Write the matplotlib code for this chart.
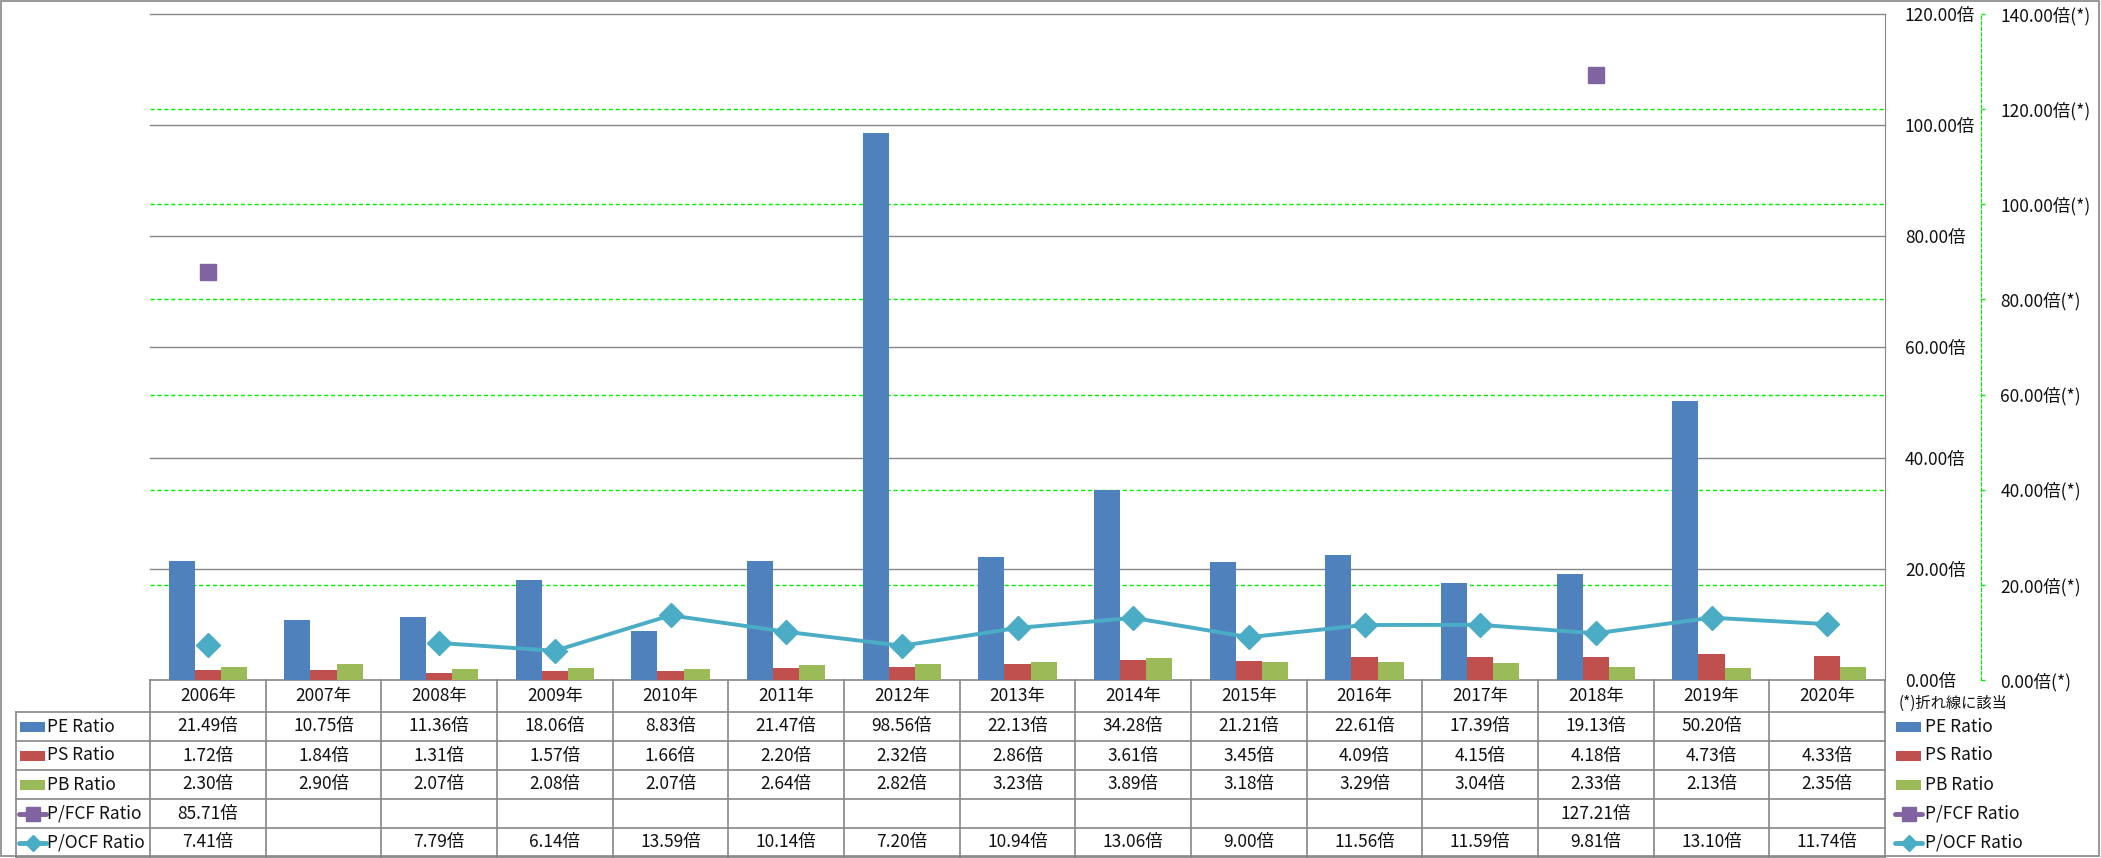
import matplotlib
matplotlib.use("Agg")
import matplotlib.pyplot as plt
import numpy as np
from matplotlib.patches import Rectangle
from matplotlib.lines import Line2D
from matplotlib.transforms import blended_transform_factory

plt.rcParams["font.family"] = ["Noto Sans CJK JP", "DejaVu Sans"]

# ---- data ----
years = ["2006年", "2007年", "2008年", "2009年", "2010年", "2011年", "2012年", "2013年",
         "2014年", "2015年", "2016年", "2017年", "2018年", "2019年", "2020年"]
pe_ratio = [21.49, 10.75, 11.36, 18.06, 8.83, 21.47, 98.56, 22.13, 34.28, 21.21,
            22.61, 17.39, 19.13, 50.20, np.nan]
ps_ratio = [1.72, 1.84, 1.31, 1.57, 1.66, 2.20, 2.32, 2.86, 3.61, 3.45,
            4.09, 4.15, 4.18, 4.73, 4.33]
pb_ratio = [2.30, 2.90, 2.07, 2.08, 2.07, 2.64, 2.82, 3.23, 3.89, 3.18,
            3.29, 3.04, 2.33, 2.13, 2.35]
pfcf_ratio = [85.71, np.nan, np.nan, np.nan, np.nan, np.nan, np.nan, np.nan,
              np.nan, np.nan, np.nan, np.nan, 127.21, np.nan, np.nan]
pocf_ratio = [7.41, np.nan, 7.79, 6.14, 13.59, 10.14, 7.20, 10.94, 13.06, 9.00,
              11.56, 11.59, 9.81, 13.10, 11.74]

series_names = ["PE Ratio", "PS Ratio", "PB Ratio", "P/FCF Ratio", "P/OCF Ratio"]
series_vals = [pe_ratio, ps_ratio, pb_ratio, pfcf_ratio, pocf_ratio]
colors = ["#4F81BD", "#C0504D", "#9BBB59", "#8064A2", "#4BACC6"]

left_ticks = [0, 20, 40, 60, 80, 100, 120]
right_ticks = [0, 20, 40, 60, 80, 100, 120, 140]
note_text = "(*)折れ線に該当"

# ---- layout (pixels) ----
W, H = 2101, 858
PL, PR, PT, PBOT = 150, 1885, 14, 680
SEC_X = 1981
TAB_L = 16
HDR_H, ROW_H = 32, 29
GRAY = "#868686"
GREEN = "#00EE00"
TXT = "#111111"
FS = 12.5

fig = plt.figure(figsize=(W / 100, H / 100), dpi=100)
rect = [PL / W, 1 - PBOT / H, (PR - PL) / W, (PBOT - PT) / H]
x = np.arange(len(years))

# overlay in pixel coords for table / legend / border
ov = fig.add_axes([0, 0, 1, 1], zorder=0)
ov.axis("off")
ov.add_patch(Rectangle((1, 1), W - 3, H - 3, fill=False, ec=GRAY, lw=1.2))

# secondary scale (green)
ax_sec = fig.add_axes(rect, zorder=1)
ax_sec.patch.set_visible(False)
ax_sec.set_xlim(-0.5, len(years) - 0.5)
ax_sec.set_ylim(0, 140)
ax_sec.set_xticks([])
for s in ["left", "top", "bottom"]:
    ax_sec.spines[s].set_visible(False)
ax_sec.spines["right"].set_position(("axes", (SEC_X - PL) / (PR - PL)))
ax_sec.spines["right"].set_color(GREEN)
ax_sec.spines["right"].set_linestyle((0, (3, 2)))
ax_sec.yaxis.tick_right()
ax_sec.set_yticks(right_ticks)
ax_sec.set_yticklabels([f"{v:.2f}倍(*)" for v in right_ticks])
ax_sec.tick_params(axis="y", color=GREEN, length=3, width=1, pad=11,
                   labelsize=FS, labelcolor=TXT)
for v in right_ticks[1:-1]:
    ax_sec.axhline(v, color=GREEN, lw=1, ls=(0, (3, 2)))

# primary scale: bars
ax = fig.add_axes(rect, zorder=2)
ax.patch.set_visible(False)
ax.set_xlim(-0.5, len(years) - 0.5)
ax.set_ylim(0, 120)
for v in left_ticks[1:]:
    ax.axhline(v, color=GRAY, lw=1, zorder=0, clip_on=False)
bw = 0.225
for k in range(3):
    ax.bar(x + (k - 1) * bw, series_vals[k], width=bw, color=colors[k], zorder=2)
ax.set_xticks([])
for s in ["left", "top", "bottom"]:
    ax.spines[s].set_visible(False)
ax.spines["right"].set_color(GRAY)
ax.yaxis.tick_right()
ax.set_yticks(left_ticks)
ax.set_yticklabels([f"{v:.2f}倍" for v in left_ticks])
ax.tick_params(axis="y", length=0, pad=14.4, labelsize=FS, labelcolor=TXT)

# lines on secondary scale
ax_ln = fig.add_axes(rect, zorder=3)
ax_ln.axis("off")
ax_ln.set_xlim(-0.5, len(years) - 0.5)
ax_ln.set_ylim(0, 140)
ax_ln.plot(x, pocf_ratio, color=colors[4], lw=2.8, marker="D", ms=12.5,
           mfc=colors[4], mec=colors[4], solid_joinstyle="round")
ax_ln.plot(x, pfcf_ratio, ls="none", marker="s", ms=12,
           mfc=colors[3], mec=colors[3])

# ---- table ----
bt = blended_transform_factory(ax.transData, ov.transData)
row_tops = [PBOT + HDR_H + ROW_H * r for r in range(len(series_names) + 1)]
line_kw = dict(color=GRAY, lw=1.2)
ov.add_line(Line2D([PL, PR], [PBOT, PBOT], **line_kw))
for yy in row_tops:
    ov.add_line(Line2D([TAB_L, PR], [yy, yy], **line_kw))
ov.add_line(Line2D([TAB_L, TAB_L], [row_tops[0], row_tops[-1]], **line_kw))
for k in range(len(years) + 1):
    ov.add_line(Line2D([k - 0.5, k - 0.5], [PBOT, row_tops[-1]], transform=bt, **line_kw))

for i, yr in enumerate(years):
    ov.text(i, PBOT + HDR_H / 2, yr, transform=bt, ha="center", va="center",
            fontsize=FS, color=TXT)


def draw_key(x0, yc, k):
    if k < 3:
        ov.add_patch(Rectangle((x0, yc - 5), 25, 10, fc=colors[k], ec="none"))
    else:
        ov.add_line(Line2D([x0 - 1, x0 + 26], [yc, yc], color=colors[k], lw=3.5,
                           solid_capstyle="round"))
        ov.add_line(Line2D([x0 + 12.5], [yc], marker="s" if k == 3 else "D",
                           ms=10 if k == 3 else 8, mfc=colors[k], mec=colors[k]))


for r, name in enumerate(series_names):
    yc = row_tops[r] + ROW_H / 2
    draw_key(20, yc, r)
    ov.text(47, yc, name, ha="left", va="center", fontsize=FS, color=TXT)
    for i, v in enumerate(series_vals[r]):
        if not np.isnan(v):
            ov.text(i, yc, f"{v:.2f}倍", transform=bt, ha="center", va="center",
                    fontsize=FS, color=TXT)
    # right-hand legend
    draw_key(1896, yc, r)
    ov.text(1925, yc, name, ha="left", va="center", fontsize=FS, color=TXT)

ov.text(1899, PBOT + 23, note_text, ha="left", va="center", fontsize=11, color=TXT)

ov.set_xlim(0, W)
ov.set_ylim(H, 0)

fig.savefig("out.png", dpi=100)
